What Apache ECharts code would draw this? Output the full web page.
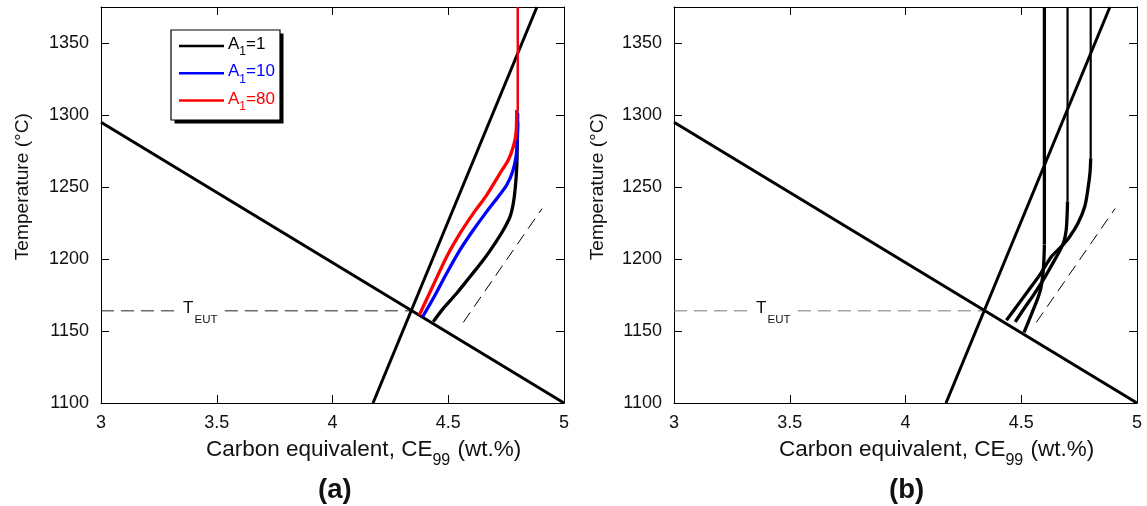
<!DOCTYPE html>
<html>
<head>
<meta charset="utf-8">
<script src="https://cdn.jsdelivr.net/npm/echarts@6/dist/echarts.min.js"></script>
<style>
  html, body { margin: 0; padding: 0; background: #fff; }
  #chart { width: 1147px; height: 506px; }
</style>
</head>
<body>
<div id="chart"></div>
<script>
// ---- data -------------------------------------------------------------
const xRange = [3, 5];
const yRange = [1100, 1375];
const tEut = 1164;

// equilibrium lines of the diagram (CE, T)
const austeniteLiquidus = [[3, 1295], [5, 1100]];
const graphiteLiquidus = [[4.175, 1100], [4.883, 1375]];
const slopeGuide = [[4.565, 1156], [4.905, 1235]];
const eutLineLeft = [[3, tEut], [3.32, tEut]];
const eutLineRight = [[3.535, tEut], [4.34, tEut]];

// (a) solidification paths for CE = 4.8 and three values of A1
const legendNames = ['A1=1', 'A1=10', 'A1=80'];
const pathA1 = [[4.4355, 1156.5], [4.4787, 1165.7], [4.5365, 1176.2], [4.594, 1187.7],
  [4.6514, 1199.3], [4.702, 1210.9], [4.738, 1220.1], [4.767, 1229.4], [4.781, 1238.7],
  [4.79, 1250.2], [4.796, 1264.1], [4.798, 1278], [4.8, 1295]];
const pathA10 = [[4.3896, 1159.9], [4.4355, 1172.7], [4.4933, 1190.1], [4.5508, 1206.3],
  [4.6083, 1220.1], [4.666, 1232.9], [4.716, 1243.3], [4.7525, 1251.4], [4.778, 1260.6],
  [4.7927, 1271], [4.798, 1282.6], [4.8, 1301.2]];
const pathA80 = [[4.375, 1161.1], [4.4355, 1181.9], [4.4933, 1201.6], [4.5508, 1217.8],
  [4.6083, 1231.7], [4.666, 1244.4], [4.7235, 1259.5], [4.7594, 1268.8], [4.781, 1278],
  [4.7927, 1287.3], [4.7957, 1303.5]];
const ceA = 4.8;

// (b) solidification paths for A1 = 1 and three carbon equivalents
const ceB = [4.6, 4.7, 4.8];
const pathCE46 = [[4.512, 1149], [4.535, 1158], [4.555, 1166], [4.572, 1173], [4.585, 1180],
  [4.594, 1190], [4.598, 1200], [4.6, 1210]];
const pathCE47 = [[4.474, 1156.3], [4.514, 1166], [4.557, 1176], [4.597, 1186], [4.636, 1197],
  [4.664, 1205], [4.684, 1212], [4.694, 1220], [4.698, 1230], [4.7, 1240]];
const pathCE48 = [[4.436, 1157.5], [4.48, 1167], [4.53, 1178], [4.58, 1189], [4.63, 1201.6],
  [4.673, 1208.6], [4.709, 1215.5], [4.745, 1224.8], [4.774, 1236.3], [4.788, 1248.6],
  [4.797, 1260], [4.8, 1270]];

// ---- styling helpers ----------------------------------------------------
const FONT = 'Liberation Sans, Arial, sans-serif';
const INK = '#000';

function frameAxis(gi, dim, position, withLabels) {
  const isX = dim === 'x';
  return {
    gridIndex: gi,
    type: 'value',
    position: position,
    min: isX ? xRange[0] : yRange[0],
    max: isX ? xRange[1] : yRange[1],
    interval: isX ? 0.5 : 50,
    axisLine: { show: true, onZero: false, lineStyle: { color: INK, width: 1 } },
    axisTick: { show: true, inside: true, length: 8, lineStyle: { color: INK, width: 1 } },
    axisLabel: {
      show: withLabels,
      fontFamily: FONT,
      fontSize: 18,
      color: '#111',
      margin: isX ? 11 : 12,
      showMaxLabel: isX ? true : false,
      formatter: (v) => String(v)
    },
    splitLine: { show: false }
  };
}

function line(name, data, xi, yi, color, width, dash, z) {
  return {
    type: 'line', name: name, data: data,
    xAxisIndex: xi, yAxisIndex: yi,
    showSymbol: false, symbol: 'none', silent: true,
    lineStyle: { color: color, width: width, type: dash || 'solid', cap: 'butt' },
    itemStyle: { color: color },
    z: z || 2,
    animation: false
  };
}

function curve(name, data, xi, yi, color, width, z) {
  const s = line(name, data, xi, yi, color, width, null, z);
  s.smooth = 0.3;
  return s;
}

function verticalFrom(path, ce) {
  const last = path[path.length - 1];
  return [[ce, last[1]], [ce, yRange[1]]];
}

const eutRich = {
  t: { fontFamily: FONT, fontSize: 17, color: '#111', lineHeight: 20, verticalAlign: 'top' },
  s: { fontFamily: FONT, fontSize: 11.5, color: '#111', padding: [14, 0, 0, 1], verticalAlign: 'top' }
};

function panel(gi, eutDash) {
  const xi = gi * 2, yi = gi * 2;
  const left = line('', eutLineLeft, xi, yi, eutDash, 1, [13, 7], 1);
  left.endLabel = { show: true, formatter: '{t|T}{s|EUT}', distance: 8, offset: [0, 2], rich: eutRich };
  return [
    left,
    line('', eutLineRight, xi, yi, eutDash, 1, [13, 7], 1),
    line('', slopeGuide, xi, yi, INK, 1, [12, 7], 1),
    line('', austeniteLiquidus, xi, yi, INK, 3, null, 3),
    line('', graphiteLiquidus, xi, yi, INK, 3, null, 3)
  ];
}

const colors = ['#000000', '#0000ff', '#ff0000'];
const pathsA = [pathA1, pathA10, pathA80];

const series = [].concat(panel(0, '#222'), panel(1, '#777'));
pathsA.forEach((p, i) => {
  series.push(curve(legendNames[i], p, 0, 0, colors[i], 3.3, 4 + i));
  series.push(line(legendNames[i], verticalFrom(p, ceA), 0, 0, colors[i], i === 2 ? 2.4 : 1.4, null, 4 + i));
});
[pathCE46, pathCE47, pathCE48].forEach((p, i) => {
  const name = 'CE=' + ceB[i];
  series.push(curve(name, p, 2, 2, INK, 3.3, 4));
  series.push(line(name, verticalFrom(p, ceB[i]), 2, 2, INK, i === 0 ? 3.3 : 2.2, null, 4));
});

const legendRich = (color) => ({
  a: { fontFamily: FONT, fontSize: 17, color: color, lineHeight: 20, verticalAlign: 'top' },
  s: { fontFamily: FONT, fontSize: 12, color: color, lineHeight: 14, padding: [10, 0, 0, 0], verticalAlign: 'top' }
});

const axisTitle = (x, text) => ({
  type: 'text', left: x, top: 438,
  style: {
    text: text, fontFamily: FONT, fontSize: 22.5, fill: '#111',
    rich: {
      m: { fontFamily: FONT, fontSize: 22.5, fill: '#111', lineHeight: 26, verticalAlign: 'top' },
      s: { fontFamily: FONT, fontSize: 16, fill: '#111', padding: [15, 1, 0, 0], verticalAlign: 'top' }
    }
  }
});

// legend frame with its offset drop shadow
const legendBox = { x: 171, y: 30, w: 109, h: 90 };

const option = {
  backgroundColor: '#fff',
  animation: false,
  grid: [
    { left: 101, top: 7, width: 463, height: 396, show: false },
    { left: 674, top: 7, width: 463, height: 396, show: false }
  ],
  xAxis: [
    frameAxis(0, 'x', 'bottom', true), frameAxis(0, 'x', 'top', false),
    frameAxis(1, 'x', 'bottom', true), frameAxis(1, 'x', 'top', false)
  ],
  yAxis: [
    frameAxis(0, 'y', 'left', true), frameAxis(0, 'y', 'right', false),
    frameAxis(1, 'y', 'left', true), frameAxis(1, 'y', 'right', false)
  ],
  legend: {
    show: true,
    orient: 'vertical',
    left: legendBox.x, top: legendBox.y,
    data: legendNames.map((n, i) => ({ name: n, textStyle: { color: colors[i], rich: legendRich(colors[i]) } })),
    icon: 'rect',
    itemWidth: 45, itemHeight: 2.5,
    itemGap: 5.3,
    padding: [6, 8, 8, 8],
    selectedMode: false,
    textStyle: { fontFamily: FONT, fontSize: 17, padding: [0, 0, 0, -1] },
    formatter: (n) => '{a|A}{s|1}{a|' + n.slice(2) + '}',
    z: 10
  },
  graphic: [
    {
      type: 'rect', z: 5, silent: true,
      shape: { x: legendBox.x + 3.5, y: legendBox.y + 3.5, width: legendBox.w, height: legendBox.h },
      style: { fill: '#000' }
    },
    {
      type: 'rect', z: 6, silent: true,
      shape: { x: legendBox.x, y: legendBox.y, width: legendBox.w, height: legendBox.h },
      style: { fill: '#fff', stroke: '#000', lineWidth: 1.2 }
    },
    {
      type: 'text', left: 13, top: 113, rotation: Math.PI / 2,
      style: { text: 'Temperature (°C)', fontFamily: FONT, fontSize: 19.2, fill: '#111' }
    },
    {
      type: 'text', left: 588, top: 113, rotation: Math.PI / 2,
      style: { text: 'Temperature (°C)', fontFamily: FONT, fontSize: 19.2, fill: '#111' }
    },
    axisTitle(206, '{m|Carbon equivalent, CE}{s|99}{m| (wt.%)}'),
    axisTitle(779, '{m|Carbon equivalent, CE}{s|99}{m| (wt.%)}'),
    { type: 'text', left: 318, top: 476, style: { text: '(a)', fontFamily: FONT, fontSize: 27.5, fontWeight: 'bold', fill: '#111' } },
    { type: 'text', left: 889, top: 476, style: { text: '(b)', fontFamily: FONT, fontSize: 27.5, fontWeight: 'bold', fill: '#111' } }
  ],
  series: series
};

const chart = echarts.init(document.getElementById('chart'), null, { renderer: 'canvas' });
chart.setOption(option);
</script>
</body>
</html>
